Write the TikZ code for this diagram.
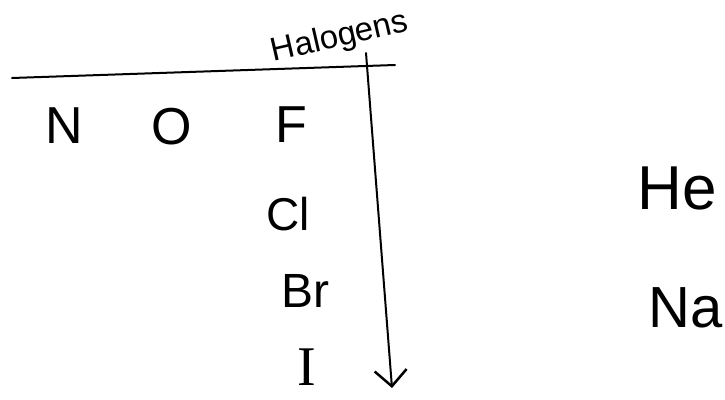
\documentclass[tikz,border=0pt]{standalone}
\usepackage{fontspec}
\setmainfont{Liberation Sans}
\newfontfamily\serifI{Liberation Serif}
\usetikzlibrary{arrows.meta}
\begin{document}
\begin{tikzpicture}[x=1pt,y=-1pt,
  elem/.style={inner sep=0pt,font=\fontsize{52}{52}\selectfont},
  ink/.style={line width=2pt,line cap=round,black}]
\useasboundingbox (0,0) rectangle (725,399);
\coordinate (hl) at (12,78);
\coordinate (hr) at (395,65);
\draw[ink] (hl) -- (hr);
\node[inner sep=0pt,font=\fontsize{33}{33}\selectfont,rotate=13] (hal) at (340,38) {Halogens};
\coordinate (atop) at (366,53);
\coordinate (abot) at (392,388);
\draw[ink,-{Straight Barb[length=16pt,width=32pt,line width=2.5pt]}] (atop) -- (abot);
\node[elem] (N) at (64,126) {N};
\node[elem] (O) at (172,127) {O};
\node[elem] (F) at (291,125) {F};
\node[elem,font=\fontsize{46}{46}\selectfont] (Cl) at (288,214) {Cl};
\node[elem,font=\fontsize{48}{48}\selectfont] (Br) at (305,291) {Br};
\node[elem,font=\serifI\fontsize{56}{56}\selectfont] (I) at (307,367) {I};
\node[elem,font=\fontsize{62}{62}\selectfont] (He) at (677,188) {He};
\node[elem,font=\fontsize{58}{58}\selectfont] (Na) at (686,308) {Na};
\end{tikzpicture}
\end{document}
